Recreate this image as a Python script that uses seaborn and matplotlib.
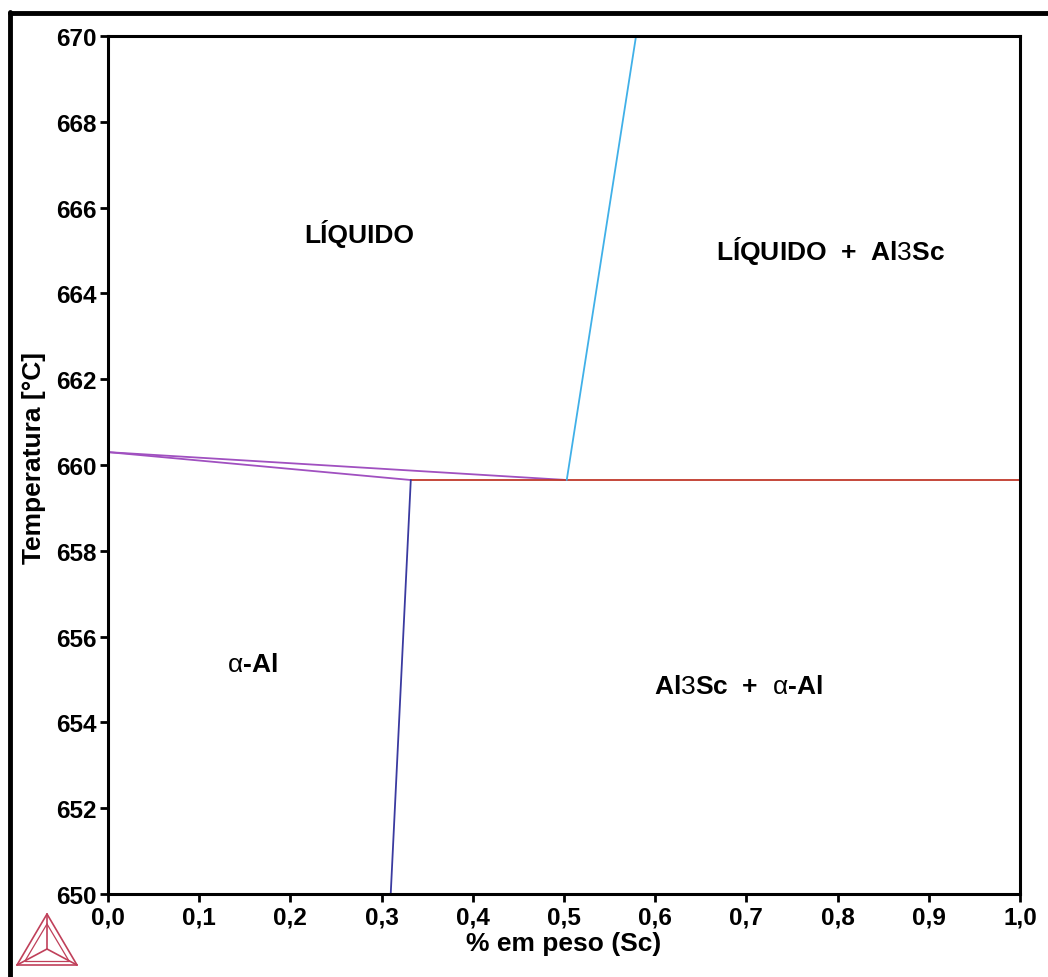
import matplotlib
matplotlib.use("Agg")
import matplotlib.pyplot as plt
import seaborn as sns
import pandas as pd
from matplotlib.lines import Line2D

sns.set_theme(style="white")
plt.rcParams['font.family'] = ['Liberation Sans', 'DejaVu Sans']
plt.rcParams['mathtext.fontset'] = 'custom'
plt.rcParams['mathtext.rm'] = 'Liberation Sans'
plt.rcParams['mathtext.it'] = 'Liberation Sans'
plt.rcParams['mathtext.bf'] = 'Liberation Sans:bold'
plt.rcParams['text.color'] = 'black'
plt.rcParams['axes.labelcolor'] = 'black'
plt.rcParams['xtick.color'] = 'black'
plt.rcParams['ytick.color'] = 'black'

# Phase boundary lines (wt% Sc, temperature °C)
liquidus_x = [0.0, 0.503]
liquidus_t = [660.3, 659.65]
solidus_x = [0.0, 0.332]
solidus_t = [660.3, 659.65]
eutectic_x = [0.332, 1.0]
eutectic_t = [659.65, 659.65]
solvus_x = [0.332, 0.310]
solvus_t = [659.65, 650.0]
al3sc_liq_x = [0.503, 0.579]
al3sc_liq_t = [659.65, 670.0]

region_labels = ["LÍQUIDO", r"LÍQUIDO + Al$\mathrm{3}$Sc", r"$\mathrm{\alpha}$-Al", r"Al$\mathrm{3}$Sc + $\mathrm{\alpha}$-Al"]
region_x = [0.276, 0.792, 0.158, 0.691]
region_t = [665.4, 665.0, 655.35, 654.85]

x_ticks = [0.0, 0.1, 0.2, 0.3, 0.4, 0.5, 0.6, 0.7, 0.8, 0.9, 1.0]
x_tick_labels = ["0,0", "0,1", "0,2", "0,3", "0,4", "0,5", "0,6", "0,7", "0,8", "0,9", "1,0"]
y_ticks = [650, 652, 654, 656, 658, 660, 662, 664, 666, 668, 670]

fig = plt.figure(figsize=(10.48, 9.78), dpi=100)
ax = fig.add_axes([108/1048, 1-895/978, (1020-108)/1048, (895-37)/978])

lines = [
    (liquidus_x, liquidus_t, "#a050c0"),
    (solidus_x, solidus_t, "#a050c0"),
    (eutectic_x, eutectic_t, "#c0392b"),
    (solvus_x, solvus_t, "#3a3aa0"),
    (al3sc_liq_x, al3sc_liq_t, "#40b0e8"),
]
for xs, ts, c in lines:
    df = pd.DataFrame({"x": xs, "t": ts})
    sns.lineplot(data=df, x="x", y="t", ax=ax, color=c, lw=1.3, sort=False, estimator=None)

for lab, x, t in zip(region_labels, region_x, region_t):
    ax.text(x, t, lab.replace(" + ", "  +  "), ha="center", va="center", fontsize=19, fontweight="bold", color="black")

ax.set_xlim(0, 1)
ax.set_ylim(650, 670)
ax.set_xticks(x_ticks)
ax.set_xticklabels(x_tick_labels)
ax.set_yticks(y_ticks)
ax.set_yticklabels([str(v) for v in y_ticks])
for lbl in ax.get_xticklabels() + ax.get_yticklabels():
    lbl.set_fontweight("bold")
    lbl.set_fontsize(17.5)
    lbl.set_color("black")
ax.tick_params(axis="both", direction="out", length=6, width=2, color="black", pad=2, bottom=True, left=True)
for s in ax.spines.values():
    s.set_color("black")
    s.set_linewidth(2.2)
ax.set_xlabel("% em peso (Sc)", fontsize=19, fontweight="bold", labelpad=2, color="black")
ax.set_ylabel("Temperatura [°C]", fontsize=19, fontweight="bold", color="black")
ax.yaxis.set_label_coords(-0.068, 0.509)

# Figure frame (left and top)
fig.add_artist(Line2D([10/1048, 10/1048], [0, 1-13/978], transform=fig.transFigure, color="black", lw=3.5))
fig.add_artist(Line2D([10/1048, 1], [1-14/978, 1-14/978], transform=fig.transFigure, color="black", lw=3.5))

# Logo (triangle) bottom-left
lc = "#c0405a"
def P(px, py):
    return (px/1048, 1-py/978)
A, B, C, O = P(47, 915), P(17, 966), P(77, 966), P(47, 950)
for p, q in [(A, B), (B, C), (C, A), (A, O), (B, O), (C, O)]:
    fig.add_artist(Line2D([p[0], q[0]], [p[1], q[1]], transform=fig.transFigure, color=lc, lw=1.2))
A2, B2, C2 = P(47, 925), P(25, 962), P(69, 962)
for p, q in [(A2, B2), (B2, C2), (C2, A2)]:
    fig.add_artist(Line2D([p[0], q[0]], [p[1], q[1]], transform=fig.transFigure, color=lc, lw=0.9))

fig.savefig("out.png", dpi=100)
